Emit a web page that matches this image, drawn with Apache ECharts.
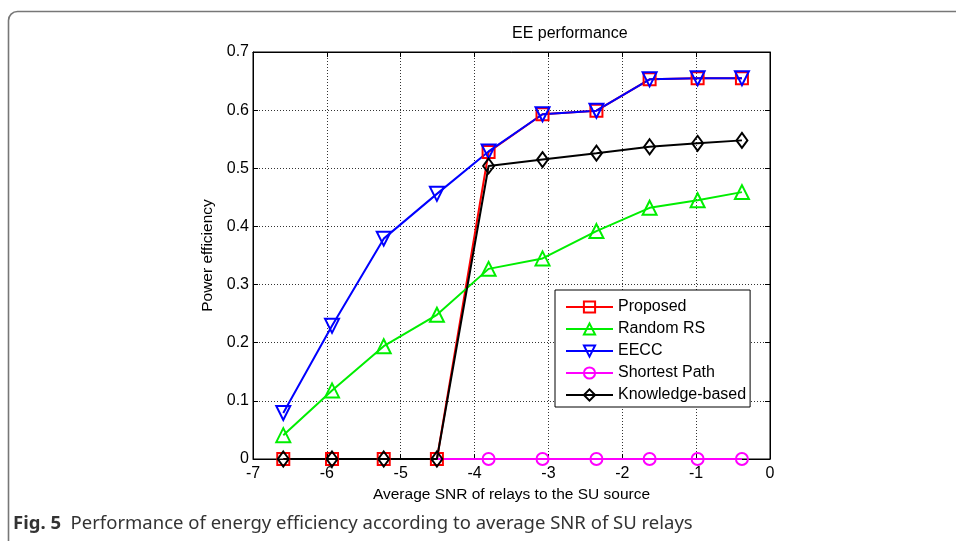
<!DOCTYPE html>
<html>
<head>
<meta charset="utf-8">
<script src="https://cdn.jsdelivr.net/npm/echarts@6/dist/echarts.min.js"></script>
<style>html,body{margin:0;padding:0;background:#fff}#c{width:956px;height:541px}</style>
</head>
<body>
<div id="c"></div>
<script>
var snr = [-6.59, -5.93, -5.23, -4.51, -3.81, -3.08, -2.35, -1.63, -0.98, -0.38];
var proposed = [0, 0, 0, 0, 0.528, 0.593, 0.599, 0.653, 0.655, 0.655];
var randomRS = [0.041, 0.118, 0.194, 0.248, 0.327, 0.345, 0.392, 0.432, 0.445, 0.459];
var eecc = [0.079, 0.229, 0.379, 0.456, 0.529, 0.593, 0.599, 0.653, 0.655, 0.655];
var shortest = [0, 0, 0, 0, 0, 0, 0, 0, 0, 0];
var knowledge = [0, 0, 0, 0, 0.504, 0.515, 0.526, 0.537, 0.543, 0.548];
var xTicks = [-7, -6, -5, -4, -3, -2, -1, 0];
var yTicks = [0, 0.1, 0.2, 0.3, 0.4, 0.5, 0.6, 0.7];

function pairs(ys, hideFirst) {
  return snr.map(function (x, i) {
    var d = { value: [x, ys[i]] };
    if (hideFirst && i < hideFirst) d.symbol = 'none';
    return d;
  });
}
function mk(name, ys, color, symbol, size, rotate, hideFirst) {
  return {
    name: name, type: 'line', data: pairs(ys, hideFirst),
    symbol: symbol, symbolSize: size, symbolRotate: rotate || 0,
    showAllSymbol: true,
    lineStyle: { color: color, width: 2 },
    itemStyle: { color: 'rgba(255,255,255,0)', borderColor: color, borderWidth: 2 },
    emphasis: { disabled: true },
    animation: false
  };
}
var font = '"Liberation Sans", Arial, sans-serif';
var chart = echarts.init(document.getElementById('c'));
chart.setOption({
  backgroundColor: '#fff',
  animation: false,
  grid: { left: 253, right: 186, top: 52, bottom: 82, show: true, borderColor: '#000', borderWidth: 1, backgroundColor: 'transparent' },
  xAxis: [{
    type: 'value', min: -7, max: 0, interval: 1, position: 'bottom',
    name: 'Average SNR of relays to the SU source', nameLocation: 'middle', nameGap: 28,
    nameTextStyle: { fontFamily: font, fontSize: 15.5, color: '#000' },
    axisLine: { show: true, onZero: false, lineStyle: { color: '#000', width: 1 } },
    axisTick: { show: true, inside: true, length: 5, lineStyle: { color: '#000' } },
    axisLabel: { fontFamily: font, fontSize: 16, color: '#000', margin: 7,
      formatter: function (v) { return xTicks.indexOf(v) >= 0 ? String(v) : ''; } },
    splitLine: { show: true, lineStyle: { color: '#333', type: [1, 2], width: 1 } }
  }, {
    type: 'value', min: -7, max: 0, interval: 1, position: 'top',
    axisLine: { show: true, onZero: false, lineStyle: { color: '#000' } },
    axisTick: { show: true, inside: true, length: 5, lineStyle: { color: '#000' } },
    axisLabel: { show: false }, splitLine: { show: false }
  }],
  yAxis: [{
    type: 'value', min: 0, max: 0.7, interval: 0.1, position: 'left',
    name: 'Power efficiency', nameLocation: 'middle', nameGap: 36,
    nameTextStyle: { fontFamily: font, fontSize: 15.5, color: '#000' },
    axisLine: { show: true, onZero: false, lineStyle: { color: '#000', width: 1 } },
    axisTick: { show: true, inside: true, length: 5, lineStyle: { color: '#000' } },
    axisLabel: { fontFamily: font, fontSize: 16, color: '#000', margin: 4,
      formatter: function (v) { var r = Math.round(v * 10) / 10; return yTicks.indexOf(r) >= 0 ? String(r) : ''; } },
    splitLine: { show: true, lineStyle: { color: '#333', type: [1, 2], width: 1 } }
  }, {
    type: 'value', min: 0, max: 0.7, interval: 0.1, position: 'right',
    axisLine: { show: true, onZero: false, lineStyle: { color: '#000' } },
    axisTick: { show: true, inside: true, length: 5, lineStyle: { color: '#000' } },
    axisLabel: { show: false }, splitLine: { show: false }
  }],
  legend: {
    orient: 'vertical', left: 555, top: 290,
    width: 190,
    backgroundColor: '#fff', borderColor: '#000', borderWidth: 1, borderRadius: 0,
    padding: [9, 4, 4, 10],
    itemWidth: 47, itemHeight: 14, itemGap: 6,
    textStyle: { fontFamily: font, fontSize: 16, color: '#000', padding: [0, 0, 0, 0] },
    data: ['Proposed', 'Random RS', 'EECC', 'Shortest Path', 'Knowledge-based']
  },
  series: [
    mk('Shortest Path', shortest, '#ff00ff', 'circle', 12, 0, 4),
    mk('Proposed', proposed, '#ff0000', 'rect', 12, 0),
    mk('Random RS', randomRS, '#00ee00', 'triangle', 14, 0),
    mk('EECC', eecc, '#0000ff', 'triangle', 14, 180),
    mk('Knowledge-based', knowledge, '#000000', 'diamond', [11, 15], 0)
  ],
  graphic: [
    { type: 'rect', left: 6, top: 9, shape: { width: 980, height: 600, r: 9 }, silent: true,
      style: { fill: 'none', stroke: '#777', lineWidth: 1.6 }, z: -10 },
    { type: 'text', left: 512, top: 26, style: { text: 'EE performance', fontFamily: font, fontSize: 16, fill: '#000', align: 'center' }, silent: true },
    { type: 'text', left: 13, top: 514, silent: true,
      style: {
        text: '{b|Fig. 5}  Performance of energy efficiency according to average SNR of SU relays',
        fontFamily: '"Noto Sans", "Open Sans", sans-serif', fontSize: 18.5, fill: '#333',
        rich: { b: { fontFamily: '"Noto Sans", "Open Sans", sans-serif', fontSize: 18.5, fontWeight: 'bold', fill: '#333' } }
      } }
  ]
});
</script>
</body>
</html>
